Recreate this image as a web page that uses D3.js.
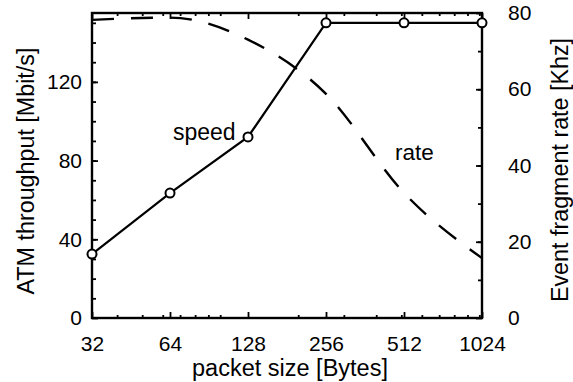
<!DOCTYPE html>
<html>
<head>
<meta charset="utf-8">
<script src="https://cdn.jsdelivr.net/npm/d3@7"></script>
<style>
  body { margin: 0; background: #fff; }
  text { font-family: "Liberation Sans", Arial, Helvetica, sans-serif; fill: #000; }
</style>
</head>
<body>
<svg id="chart" width="573" height="382"></svg>
<script>
// data
const packetSizes = [32, 64, 128, 256, 512, 1024];
const speed = [32.5, 63.5, 92, 150, 150, 150];     // ATM throughput, Mbit/s (left axis)
const rate  = [78.2, 78.8, 73, 58.8, 32.8, 15.7];  // event fragment rate, kHz (right axis)
const leftTicks  = [0, 40, 80, 120];
const rightTicks = [0, 20, 40, 60, 80];
const xMinorTicks = [40, 50, 60, 70, 80, 90, 100, 200, 300, 400, 500, 600, 700, 800, 900, 1000];

const svg = d3.select("#chart");
const L = 92, R = 482, T = 13, B = 318;

const x  = d3.scaleLog().base(2).domain([32, 1024]).range([L, R]);
const yL = d3.scaleLinear().domain([0, 155]).range([B, T]);
const yR = d3.scaleLinear().domain([0, 80]).range([B, T]);

// 1) axes (ticks point inward)
function styleAxis(g) {
  g.select(".domain").remove();
  g.selectAll(".tick line").attr("stroke", "#000").attr("stroke-width", 1.8);
  g.selectAll(".tick text").attr("font-size", 21).attr("fill", "#000");
}

svg.append("g")
  .attr("transform", `translate(0,${B})`)
  .call(d3.axisBottom(x).tickValues(packetSizes).tickFormat(d3.format("d"))
    .tickSize(-6).tickPadding(18))
  .call(styleAxis);

svg.append("g")
  .attr("transform", `translate(0,${B})`)
  .call(d3.axisBottom(x).tickValues(xMinorTicks).tickFormat("").tickSize(-3))
  .call(styleAxis);

svg.append("g")
  .attr("transform", `translate(0,${T})`)
  .call(d3.axisTop(x).tickValues(packetSizes).tickFormat("").tickSize(-6))
  .call(styleAxis);

svg.append("g")
  .attr("transform", `translate(0,${T})`)
  .call(d3.axisTop(x).tickValues(xMinorTicks).tickFormat("").tickSize(-3))
  .call(styleAxis);

svg.append("g")
  .attr("transform", `translate(${L},0)`)
  .call(d3.axisLeft(yL).tickValues(leftTicks).tickSize(-6).tickPadding(10))
  .call(styleAxis);

svg.append("g")
  .attr("transform", `translate(${L},0)`)
  .call(d3.axisLeft(yL).tickValues(d3.range(10, 155, 10)).tickFormat("").tickSize(-4))
  .call(styleAxis);

svg.append("g")
  .attr("transform", `translate(${R},0)`)
  .call(d3.axisRight(yR).tickValues(rightTicks).tickSize(-6).tickPadding(26))
  .call(styleAxis);

svg.append("g")
  .attr("transform", `translate(${R},0)`)
  .call(d3.axisRight(yR).tickValues(d3.range(10, 80, 10)).tickFormat("").tickSize(-4))
  .call(styleAxis);

// frame
svg.append("rect")
  .attr("x", L).attr("y", T)
  .attr("width", R - L).attr("height", B - T)
  .attr("fill", "none").attr("stroke", "#000").attr("stroke-width", 2.4);

// 2) series
const rateLine = d3.line()
  .x((d, i) => x(packetSizes[i]))
  .y(d => yR(d))
  .curve(d3.curveMonotoneX);

svg.append("path")
  .datum(rate)
  .attr("d", rateLine)
  .attr("fill", "none")
  .attr("stroke", "#000")
  .attr("stroke-width", 2.4)
  .attr("stroke-dasharray", "22,17");

const speedLine = d3.line()
  .x((d, i) => x(packetSizes[i]))
  .y(d => yL(d));

svg.append("path")
  .datum(speed)
  .attr("d", speedLine)
  .attr("fill", "none")
  .attr("stroke", "#000")
  .attr("stroke-width", 2.2);

svg.append("g")
  .selectAll("circle")
  .data(speed)
  .join("circle")
    .attr("cx", (d, i) => x(packetSizes[i]))
    .attr("cy", d => yL(d))
    .attr("r", 4.5)
    .attr("fill", "#fff")
    .attr("stroke", "#000")
    .attr("stroke-width", 2);

// 3) labels
svg.append("text")
  .attr("x", 173).attr("y", 140)
  .attr("font-size", 23)
  .text("speed");

svg.append("text")
  .attr("x", 395).attr("y", 160)
  .attr("font-size", 22.5)
  .text("rate");

svg.append("text")
  .attr("x", (L + R) / 2 + 3).attr("y", 376)
  .attr("text-anchor", "middle")
  .attr("font-size", 23.5)
  .text("packet size [Bytes]");

svg.append("text")
  .attr("transform", "translate(34,171) rotate(-90)")
  .attr("text-anchor", "middle")
  .attr("font-size", 23.3)
  .text("ATM throughput [Mbit/s]");

svg.append("text")
  .attr("transform", "translate(568,170) rotate(-90)")
  .attr("text-anchor", "middle")
  .attr("font-size", 23.3)
  .text("Event fragment rate [Khz]");
</script>
</body>
</html>
